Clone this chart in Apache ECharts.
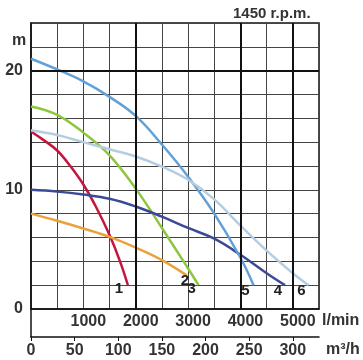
<!DOCTYPE html>
<html>
<head>
<meta charset="utf-8">
<script src="https://cdn.jsdelivr.net/npm/echarts@6/dist/echarts.min.js"></script>
<style>
html,body{margin:0;padding:0;background:#fff;}
#chart{width:363px;height:360px;}
</style>
</head>
<body>
<div id="chart"></div>
<script>
// Flow (l/min) vs head (m) pump curves, 1450 r.p.m.
const curveNames = ['1', '2', '3', '4', '5', '6'];
const curve1 = [[0,14.9],[250,14.15],[500,13.3],[750,12.0],[1000,10.45],[1250,8.5],[1500,6.2],[1700,4.0],[1850,2.0]];
const curve2 = [[0,8.0],[500,7.4],[1000,6.75],[1500,6.05],[2000,5.15],[2500,4.1],[2980,2.8]];
const curve3 = [[0,17.0],[500,16.3],[1000,14.8],[1500,12.9],[2000,10.1],[2500,6.8],[3000,3.4],[3200,2.0]];
const curve4 = [[0,10.0],[500,9.85],[1000,9.6],[1500,9.25],[2000,8.6],[2500,7.75],[3000,6.8],[3500,5.9],[4000,4.55],[4500,3.0],[4850,2.0]];
const curve5 = [[0,21.0],[500,20.1],[1000,19.1],[1500,17.8],[2000,16.2],[2500,13.8],[3000,11.1],[3500,8.0],[4000,4.3],[4250,2.0]];
const curve6 = [[0,15.0],[500,14.6],[1000,14.0],[1500,13.4],[2000,12.8],[2500,11.95],[3000,10.85],[3500,9.2],[4000,7.0],[4500,4.9],[5000,3.0],[5300,2.0]];
const curves = [curve1, curve2, curve3, curve4, curve5, curve6];
const colors = ['#c4163c', '#e9a23b', '#8dc63f', '#3b4a96', '#62a0d6', '#b5cde0'];
const labelOffsets = [[-9,4],[-2,5],[-7,4],[-7,6],[-8,6],[-7,6]];

const lminTicks = [1000, 2000, 3000, 4000, 5000];
const m3hTicks = [0, 50, 100, 150, 200, 250, 300];
const headTicks = [0, 10, 20];
const majorLmin = [2000, 4000, 5000];
const majorHead = [20];

const FONT = 'Liberation Sans, Arial, sans-serif';
const TXT = '#333';

const chart = echarts.init(document.getElementById('chart'), null, {renderer: 'canvas'});

const series = curves.map((c, i) => ({
  type: 'line',
  name: curveNames[i],
  xAxisIndex: 0, yAxisIndex: 0,
  data: c,
  smooth: 0.4,
  showSymbol: false,
  symbol: 'none',
  z: 3,
  lineStyle: {color: colors[i], width: 2.5},
  silent: true
}));

series.push({
  type: 'line', xAxisIndex: 0, yAxisIndex: 0, data: [], z: 1, silent: true,
  markLine: {
    silent: true, symbol: 'none', animation: false,
    label: {show: false},
    lineStyle: {color: '#111', width: 2, type: 'solid'},
    data: majorHead.map(v => ({yAxis: v})).concat(majorLmin.map(v => ({xAxis: v})))
  }
});

series.push({
  type: 'scatter', xAxisIndex: 0, yAxisIndex: 0, z: 4, silent: true,
  symbolSize: 2,
  itemStyle: {color: 'rgba(0,0,0,0)'},
  data: curves.map((c, i) => ({
    value: c[c.length - 1],
    label: {show: true, formatter: curveNames[i], position: 'inside', offset: labelOffsets[i],
      fontFamily: FONT, fontSize: 15, fontWeight: 'bold', color: '#222',
      textBorderWidth: 0, opacity: 1}
  }))
});

chart.setOption({
  animation: false,
  backgroundColor: '#fff',
  grid: [
    {left: 31, top: 23, width: 288, height: 286, show: true, borderColor: '#111', borderWidth: 1.5, backgroundColor: 'transparent'},
    {left: 31, top: 309, width: 288, height: 28}
  ],
  xAxis: [
    {
      gridIndex: 0, type: 'value', min: 0, max: 5500, interval: 500,
      axisLine: {show: true, lineStyle: {color: '#111', width: 1.5}},
      axisTick: {show: false},
      splitLine: {show: true, lineStyle: {color: '#444', width: 1}},
      axisLabel: {
        customValues: lminTicks, margin: 5, padding: [0, 0, 0, 10],
        formatter: v => String(v),
        fontFamily: FONT, fontSize: 16, fontWeight: 'bold', color: TXT
      }
    },
    {
      gridIndex: 1, type: 'value', min: 0, max: 330, interval: 50, position: 'bottom',
      axisLine: {show: true, onZero: false, lineStyle: {color: '#111', width: 1.5}},
      axisTick: {show: true, customValues: m3hTicks, length: 4, lineStyle: {color: '#111', width: 1}},
      splitLine: {show: false},
      axisLabel: {
        customValues: m3hTicks, margin: 6,
        formatter: v => String(v),
        fontFamily: FONT, fontSize: 16, fontWeight: 'bold', color: TXT
      }
    }
  ],
  yAxis: [
    {
      gridIndex: 0, type: 'value', min: 0, max: 24, interval: 2,
      axisLine: {show: true, lineStyle: {color: '#111', width: 1.5}},
      axisTick: {show: false},
      splitLine: {show: true, lineStyle: {color: '#444', width: 1}},
      axisLabel: {
        customValues: headTicks, margin: 8,
        fontFamily: FONT, fontSize: 16, fontWeight: 'bold', color: TXT
      }
    },
    {
      gridIndex: 1, type: 'value', min: 0, max: 1,
      axisLine: {show: true, onZero: false, lineStyle: {color: '#111', width: 1.5}},
      axisTick: {show: false}, axisLabel: {show: false}, splitLine: {show: false}
    }
  ],
  graphic: [
    {type: 'text', left: 233, top: 6, style: {text: '1450 r.p.m.', font: 'bold 15px ' + FONT, fill: TXT}},
    {type: 'text', left: 12, top: 33, style: {text: 'm', font: 'bold 16px ' + FONT, fill: TXT}},
    {type: 'text', left: 322, top: 313, style: {text: 'l/min', font: 'bold 16px ' + FONT, fill: TXT}},
    {type: 'text', left: 326, top: 342, style: {text: 'm³/h', font: 'bold 16px ' + FONT, fill: TXT}}
  ],
  series: series
});
</script>
</body>
</html>
